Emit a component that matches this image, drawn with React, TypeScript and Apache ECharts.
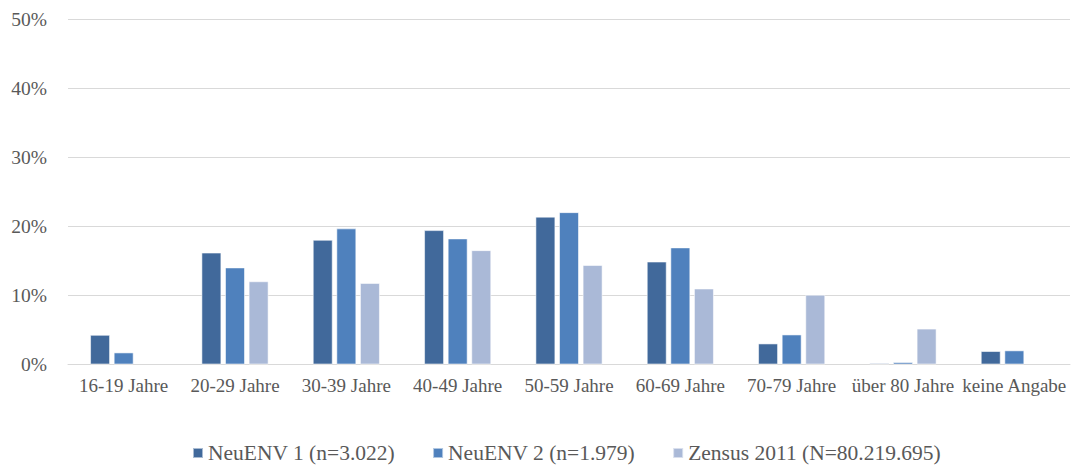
import React, { useEffect, useRef } from "react";
import * as echarts from "echarts";

const categories = [
  "16-19 Jahre",
  "20-29 Jahre",
  "30-39 Jahre",
  "40-49 Jahre",
  "50-59 Jahre",
  "60-69 Jahre",
  "70-79 Jahre",
  "über 80 Jahre",
  "keine Angabe",
];

const neuEnv1 = [4.3, 16.2, 18.05, 19.45, 21.4, 14.9, 3.05, 0.2, 1.95];
const neuEnv2 = [1.75, 14.05, 19.7, 18.25, 22.05, 16.95, 4.35, 0.35, 2.05];
const zensus2011 = [null, 12.05, 11.8, 16.55, 14.4, 11.0, 10.1, 5.2, null];

const seriesNames = [
  "NeuENV 1 (n=3.022)",
  "NeuENV 2 (n=1.979)",
  "Zensus 2011 (N=80.219.695)",
];
const colors = ["#41699B", "#4F81BD", "#AAB9D7"];

const FONT = "Liberation Serif";

export default function App() {
  const ref = useRef<HTMLDivElement>(null);

  useEffect(() => {
    if (!ref.current) return;
    const chart = echarts.init(ref.current, undefined, { renderer: "svg" });
    const barStyle = (c: string) => ({
      color: c,
      borderColor: "rgba(255,255,255,0.55)",
      borderWidth: 1,
    });
    const legendText = { fontFamily: FONT, fontSize: 21.5, color: "#595959" };
    chart.setOption({
      animation: false,
      textStyle: { fontFamily: FONT },
      grid: { left: 68, right: 5, top: 19, bottom: 102.5, containLabel: false },
      legend: {
        left: 187,
        top: 437,
        padding: 5,
        itemWidth: 10,
        itemHeight: 10,
        itemGap: 37,
        icon: "rect",
        textStyle: legendText,
        data: seriesNames.map((n) => ({ name: n, textStyle: legendText })),
      },
      xAxis: {
        type: "category",
        data: categories,
        axisTick: { show: false },
        axisLine: { lineStyle: { color: "#d9d9d9", width: 1 } },
        axisLabel: {
          fontFamily: FONT,
          fontSize: 19,
          color: "#595959",
          margin: 11,
          interval: 0,
        },
      },
      yAxis: {
        type: "value",
        min: 0,
        max: 50,
        interval: 10,
        axisLine: { show: false },
        axisTick: { show: false },
        splitLine: { lineStyle: { color: "#d9d9d9", width: 1 } },
        axisLabel: {
          fontFamily: FONT,
          fontSize: 19.5,
          color: "#595959",
          margin: 21,
          formatter: "{value}%",
        },
      },
      series: [
        { name: seriesNames[0], type: "bar", data: neuEnv1, barWidth: 20, barGap: "18%", itemStyle: barStyle(colors[0]) },
        { name: seriesNames[1], type: "bar", data: neuEnv2, barWidth: 20, barGap: "18%", itemStyle: barStyle(colors[1]) },
        { name: seriesNames[2], type: "bar", data: zensus2011, barWidth: 20, barGap: "18%", itemStyle: barStyle(colors[2]) },
      ],
    });
    return () => chart.dispose();
  }, []);

  return (
    <div
      ref={ref}
      style={{ position: "fixed", left: 0, top: 0, width: 1075, height: 467, background: "#fff" }}
    />
  );
}
